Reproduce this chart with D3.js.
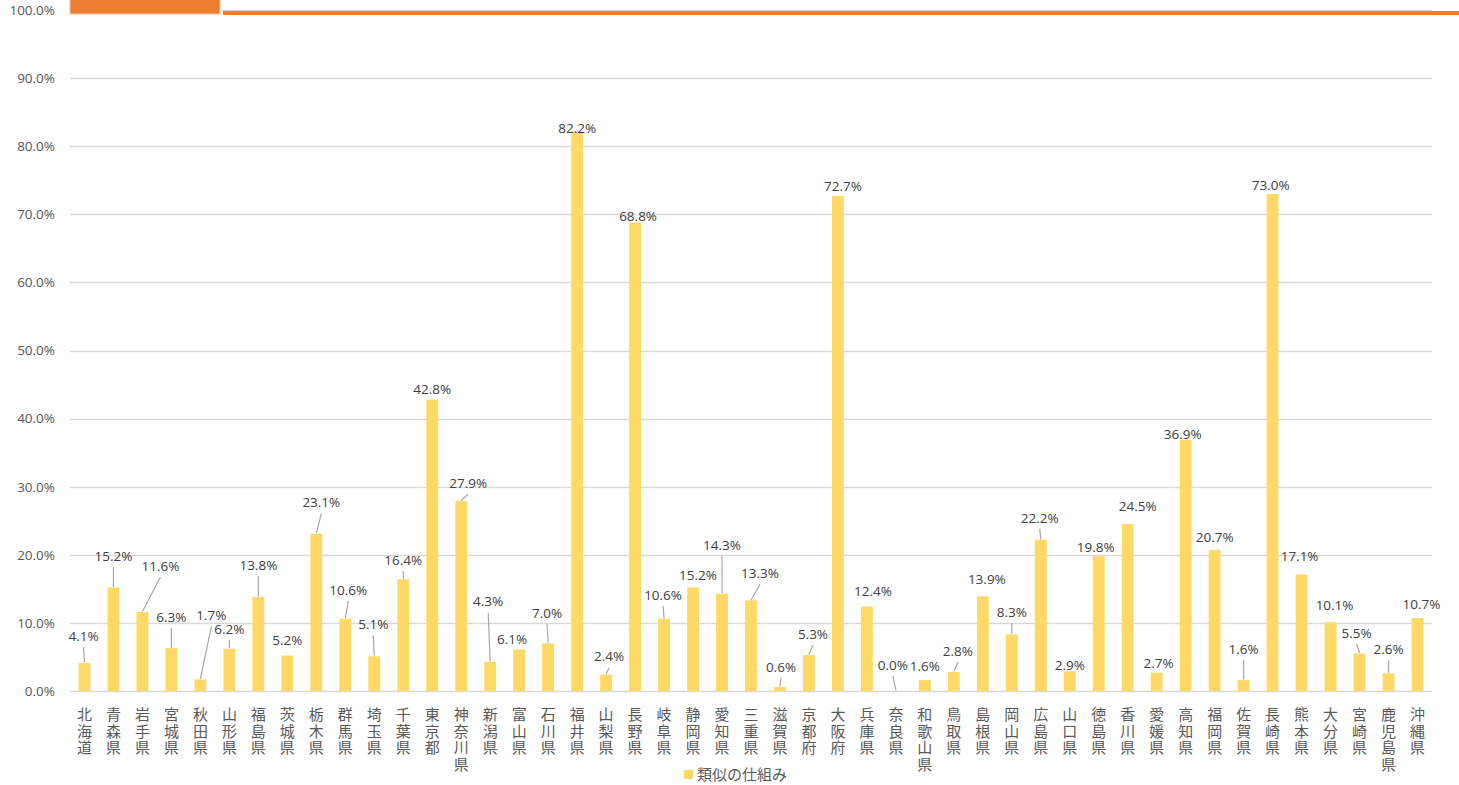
<!DOCTYPE html>
<html>
<head>
<meta charset="utf-8">
<script src="https://cdn.jsdelivr.net/npm/d3@7"></script>
<style>
  body { margin: 0; background: #fff; }
  svg { display: block; }
</style>
</head>
<body>
<div id="chart"></div>
<script>
// prefectures
var categories = ['北海道','青森県','岩手県','宮城県','秋田県','山形県','福島県','茨城県','栃木県','群馬県',
    '埼玉県','千葉県','東京都','神奈川県','新潟県','富山県','石川県','福井県','山梨県','長野県',
    '岐阜県','静岡県','愛知県','三重県','滋賀県','京都府','大阪府','兵庫県','奈良県','和歌山県',
    '鳥取県','島根県','岡山県','広島県','山口県','徳島県','香川県','愛媛県','高知県','福岡県',
    '佐賀県','長崎県','熊本県','大分県','宮崎県','鹿児島県','沖縄県'];

var values = [4.1,15.2,11.6,6.3,1.7,6.2,13.8,5.2,23.1,10.6,
    5.1,16.4,42.8,27.9,4.3,6.1,7.0,82.2,2.4,68.8,
    10.6,15.2,14.3,13.3,0.6,5.3,72.7,12.4,0.0,1.6,
    2.8,13.9,8.3,22.2,2.9,19.8,24.5,2.7,36.9,20.7,
    1.6,73.0,17.1,10.1,5.5,2.6,10.7];

var seriesName = '類似の仕組み';
var yTicks = [0,10,20,30,40,50,60,70,80,90,100];

// label placement (moved labels, as in the original), px from bar top centre
var labelDx = [-1,0,18,0,11,0,0,0,5,3, -1,0,0,7,-2,-7,-1,0,3,3, -1,5,0,9,1,4,5,6,-3,0,
    4,4,0,-1,0,-3,10,2,-3,0, 0,-2,-2,4,-3,0,4];
var labelDy = [-27,-31.5,-46,-31,-64,-20,-32,-15,-31,-29, -32,-19,-10.5,-18,-60,-10.5,-30,-3,-18,-6.5,
    -24,-12.5,-48,-27,-20,-21,-10,-15,-26,-14, -21,-17,-22.5,-22,-6,-9,-18,-9,-5,-13,
    -31,-9,-18.5,-17,-20.5,-24,-14];
var leader = [1,1,1,1,1,1,1,0,1,1, 1,1,0,1,1,0,1,0,1,0, 1,0,1,1,1,1,0,0,1,0,
    1,0,1,1,0,0,0,0,0,0, 1,0,0,0,1,1,0];

var width = 1459, height = 785;
var margin = {left: 70, right: 27, top: 10, bottom: 94};

var svg = d3.select('#chart').append('svg')
    .attr('width', width)
    .attr('height', height);

var x = d3.scaleBand()
    .domain(categories)
    .range([margin.left, width - margin.right])
    .paddingInner(0.59)
    .paddingOuter(0.295);

var y = d3.scaleLinear()
    .domain([0, 100])
    .range([height - margin.bottom, margin.top]);

var fmt = function(v) { return v.toFixed(1) + '%'; };

// gridlines
svg.append('g').selectAll('line')
    .data(yTicks)
    .enter().append('line')
    .attr('x1', margin.left)
    .attr('x2', width - margin.right)
    .attr('y1', function(d) { return Math.round(y(d)) + 0.5; })
    .attr('y2', function(d) { return Math.round(y(d)) + 0.5; })
    .style('stroke', '#d9d9d9')
    .style('stroke-width', 1.3);

// top decoration (orange strip from the original image)
svg.append('rect')
    .attr('x', 70).attr('y', -1).attr('width', 150).attr('height', 15)
    .style('fill', '#ED7D31').style('stroke', '#f6c6a4').style('stroke-width', 1);
svg.append('rect')
    .attr('x', 223).attr('y', 11).attr('width', width - 223).attr('height', 4)
    .style('fill', '#ED7D31');

// y axis labels
var yAxis = d3.axisLeft(y)
    .tickValues(yTicks)
    .tickSize(0)
    .tickPadding(15)
    .tickFormat(fmt);

var yg = svg.append('g')
    .attr('transform', 'translate(' + margin.left + ',0)')
    .call(yAxis);
yg.select('.domain').remove();
yg.selectAll('text')
    .style('font-family', '"Open Sans", "Noto Sans", sans-serif')
    .style('font-size', '13.5px')
    .style('fill', '#595959');

// bars
svg.append('g').selectAll('rect')
    .data(values)
    .enter().append('rect')
    .attr('x', function(d, i) { return x(categories[i]); })
    .attr('y', function(d) { return y(d); })
    .attr('width', x.bandwidth())
    .attr('height', function(d) { return y(0) - y(d); })
    .style('fill', '#FFD966');

// leader lines
svg.append('g').selectAll('line')
    .data(values.map(function(v, i) { return i; }).filter(function(i) { return leader[i]; }))
    .enter().append('line')
    .attr('x1', function(i) { return x(categories[i]) + x.bandwidth() / 2 + labelDx[i]; })
    .attr('y1', function(i) { return y(values[i]) + labelDy[i] + 11; })
    .attr('x2', function(i) { return x(categories[i]) + x.bandwidth() / 2; })
    .attr('y2', function(i) { return y(values[i]) - 0.5; })
    .style('stroke', '#a6a6a6')
    .style('stroke-width', 1.2);

// data labels
svg.append('g').selectAll('text')
    .data(values)
    .enter().append('text')
    .attr('x', function(d, i) { return x(categories[i]) + x.bandwidth() / 2 + labelDx[i]; })
    .attr('y', function(d, i) { return y(d) + labelDy[i]; })
    .attr('dy', '0.35em')
    .attr('text-anchor', 'middle')
    .style('font-family', '"Open Sans", "Noto Sans", sans-serif')
    .style('font-size', '13.5px')
    .style('fill', '#404040')
    .text(fmt);

// category labels, written vertically
svg.append('g').selectAll('text')
    .data(categories)
    .enter().append('text')
    .attr('x', function(d) { return x(d) + x.bandwidth() / 2; })
    .attr('y', 707)
    .attr('text-anchor', 'start')
    .style('writing-mode', 'vertical-rl')
    .style('text-orientation', 'upright')
    .style('letter-spacing', '1.5px')
    .style('font-family', '"Noto Sans CJK JP", sans-serif')
    .style('font-size', '15px')
    .style('fill', '#595959')
    .text(function(d) { return d; });

// legend
var legend = svg.append('g').attr('transform', 'translate(684,770)');
legend.append('rect')
    .attr('width', 9).attr('height', 9)
    .style('fill', '#FFD966');
legend.append('text')
    .attr('x', 13).attr('y', 5)
    .attr('dy', '0.35em')
    .style('font-family', '"Noto Sans CJK JP", sans-serif')
    .style('font-size', '15px')
    .style('fill', '#595959')
    .text(seriesName);
</script>
</body>
</html>
